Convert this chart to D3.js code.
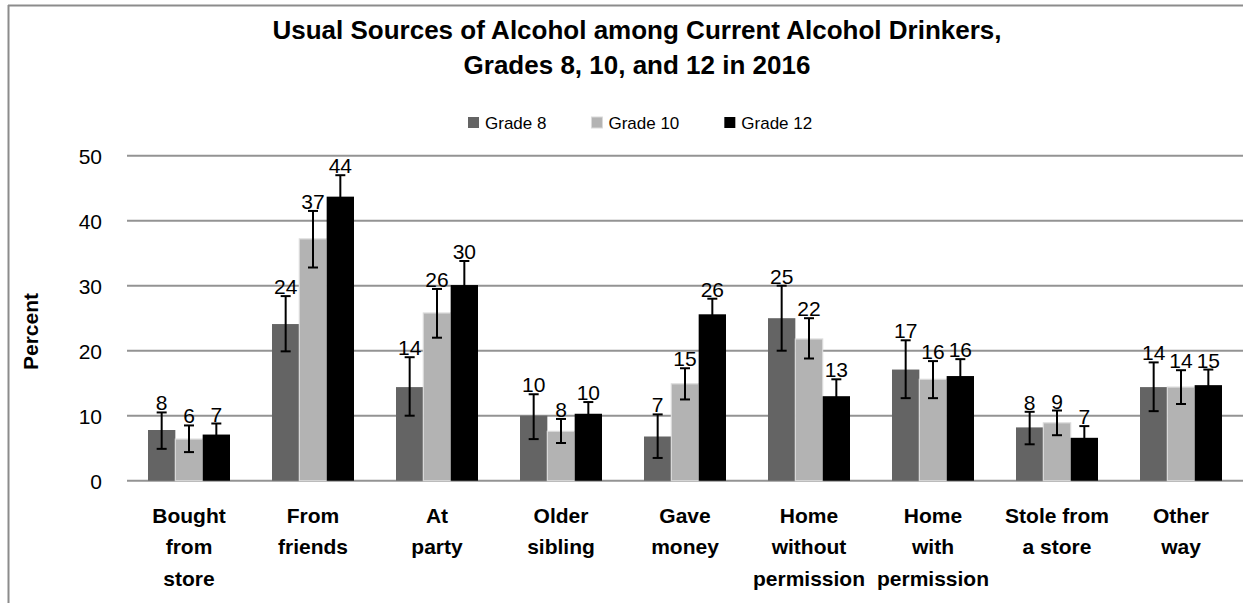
<!DOCTYPE html>
<html>
<head>
<meta charset="utf-8">
<script src="https://cdn.jsdelivr.net/npm/d3@7"></script>
<style>
  html, body { margin: 0; padding: 0; background: #fff; }
  svg { display: block; font-family: "Liberation Sans", Arial, sans-serif; }
</style>
</head>
<body>
<svg id="chart" width="1248" height="603"></svg>
<script>
// ---- Data ----
const categories = [
  "Bought|from|store", "From|friends", "At|party", "Older|sibling", "Gave|money",
  "Home|without|permission", "Home|with|permission", "Stole from|a store", "Other|way"
];
const seriesNames = ["Grade 8", "Grade 10", "Grade 12"];
const grade8  = [7.8, 24.1, 14.4, 10.0, 6.8, 25.0, 17.1, 8.2, 14.4];
const grade10 = [6.4, 37.2, 25.8, 7.6, 14.9, 21.8, 15.6, 8.9, 14.4];
const grade12 = [7.1, 43.7, 30.1, 10.3, 25.6, 13.0, 16.1, 6.6, 14.7];
const grade8Upper  = [10.5, 28.4, 19.0, 13.3, 10.2, 30.0, 21.6, 10.6, 18.2];
const grade8Lower  = [4.9, 19.9, 10.0, 6.4, 3.5, 20.0, 12.7, 5.6, 10.7];
const grade10Upper = [8.5, 41.5, 29.5, 9.5, 17.3, 25.0, 18.4, 10.8, 17.0];
const grade10Lower = [4.4, 32.8, 22.0, 5.8, 12.5, 18.8, 12.7, 7.0, 11.8];
const grade12Upper = [8.8, 47.0, 33.8, 12.1, 28.0, 15.6, 18.7, 8.4, 17.1];
const grade12Lower = [5.4, 40.4, 26.4, 8.5, 23.2, 10.4, 13.5, 4.8, 12.3];
const yTicks = [0, 10, 20, 30, 40, 50];

// ---- Build table ----
const values = [grade8, grade10, grade12];
const uppers = [grade8Upper, grade10Upper, grade12Upper];
const lowers = [grade8Lower, grade10Lower, grade12Lower];
const colors = ["#646464", "#b3b3b3", "#000000"];
const strokes = ["none", "#dadada", "none"];

const rows = [];
categories.forEach((c, i) => {
  seriesNames.forEach((s, j) => {
    rows.push({ cat: c, series: s, si: j, v: values[j][i], hi: uppers[j][i], lo: lowers[j][i] });
  });
});

const svg = d3.select("#chart");
const W = 1248, H = 603;
const plot = { left: 127, right: 1243, top: 155.7, bottom: 480.7 };

// frame (top & left edges visible)
svg.append("line").attr("x1", 8).attr("x2", 1243).attr("y1", 5.5).attr("y2", 5.5)
  .attr("stroke", "#8c8c8c").attr("stroke-width", 2);
svg.append("line").attr("x1", 8.5).attr("x2", 8.5).attr("y1", 5).attr("y2", H)
  .attr("stroke", "#8c8c8c").attr("stroke-width", 2);

// scales
const x0 = d3.scaleBand().domain(categories).range([plot.left, plot.right])
  .paddingInner(42 / 124).paddingOuter(21 / 124);
const x1 = d3.scaleBand().domain(seriesNames).range([0, x0.bandwidth()]).padding(0);
const y = d3.scaleLinear().domain([0, 50]).range([plot.bottom, plot.top]);

// gridlines
svg.append("g").selectAll("line").data(yTicks).join("line")
  .attr("x1", plot.left).attr("x2", plot.right)
  .attr("y1", d => y(d)).attr("y2", d => y(d))
  .attr("stroke", "#939393").attr("stroke-width", 2);

// y axis labels
const yAxis = d3.axisLeft(y).tickValues(yTicks).tickSize(0).tickPadding(25);
const gy = svg.append("g").attr("transform", `translate(${plot.left},0)`).call(yAxis);
gy.select(".domain").remove();
gy.selectAll("text").attr("font-size", 21).attr("fill", "#000")
  .attr("font-family", "'Liberation Sans', Arial, sans-serif").attr("dy", "0.36em");

// Percent label
svg.append("text")
  .attr("transform", `translate(38,331.5) rotate(-90)`)
  .attr("text-anchor", "middle").attr("font-size", 21).attr("font-weight", "bold")
  .text("Percent");

// bars
svg.append("g").selectAll("rect").data(rows).join("rect")
  .attr("x", d => x0(d.cat) + x1(d.series))
  .attr("y", d => y(d.v))
  .attr("width", x1.bandwidth())
  .attr("height", d => y(0) - y(d.v))
  .attr("fill", d => colors[d.si])
  .attr("stroke", d => strokes[d.si])
  .attr("stroke-width", 1.2);

// error bars
const eb = svg.append("g").attr("stroke", "#000").attr("stroke-width", 2);
const cx = d => x0(d.cat) + x1(d.series) + x1.bandwidth() / 2;
eb.selectAll("line.v").data(rows).join("line").attr("class", "v")
  .attr("x1", cx).attr("x2", cx).attr("y1", d => y(d.hi)).attr("y2", d => y(d.lo));
eb.selectAll("line.t").data(rows).join("line").attr("class", "t")
  .attr("x1", d => cx(d) - 5).attr("x2", d => cx(d) + 5)
  .attr("y1", d => y(d.hi)).attr("y2", d => y(d.hi));
eb.selectAll("line.b").data(rows).join("line").attr("class", "b")
  .attr("x1", d => cx(d) - 5).attr("x2", d => cx(d) + 5)
  .attr("y1", d => y(d.lo)).attr("y2", d => y(d.lo));

// data labels
svg.append("g").selectAll("text").data(rows).join("text")
  .attr("x", cx).attr("y", d => y(d.hi) - 2)
  .attr("text-anchor", "middle").attr("font-size", 21).attr("fill", "#000")
  .text(d => Math.round(d.v));

// x category labels
const xl = svg.append("g").selectAll("text").data(categories).join("text")
  .attr("text-anchor", "middle").attr("font-size", 21).attr("font-weight", "bold")
  .attr("x", d => x0(d) + x0.bandwidth() / 2).attr("y", 522.7);
xl.each(function(d) {
  const t = d3.select(this);
  d.split("|").forEach((line, k) => {
    t.append("tspan").attr("x", x0(d) + x0.bandwidth() / 2).attr("dy", k === 0 ? 0 : 31.7).text(line);
  });
});

// title
const title = svg.append("text").attr("text-anchor", "middle").attr("font-size", 26)
  .attr("font-weight", "bold");
title.append("tspan").attr("x", 637).attr("y", 39.3).text("Usual Sources of Alcohol among Current Alcohol Drinkers,");
title.append("tspan").attr("x", 637).attr("y", 74).text("Grades 8, 10, and 12 in 2016");

// legend
const legend = svg.append("g");
let lx = 468;
seriesNames.forEach((s, j) => {
  legend.append("rect").attr("x", lx).attr("y", 117).attr("width", 11).attr("height", 11)
    .attr("fill", colors[j]).attr("stroke", strokes[j]);
  const t = legend.append("text").attr("x", lx + 17).attr("y", 129.3).attr("font-size", 17).text(s);
  const w = t.node().getComputedTextLength();
  lx = lx + 17 + w + 45;
});
</script>
</body>
</html>
